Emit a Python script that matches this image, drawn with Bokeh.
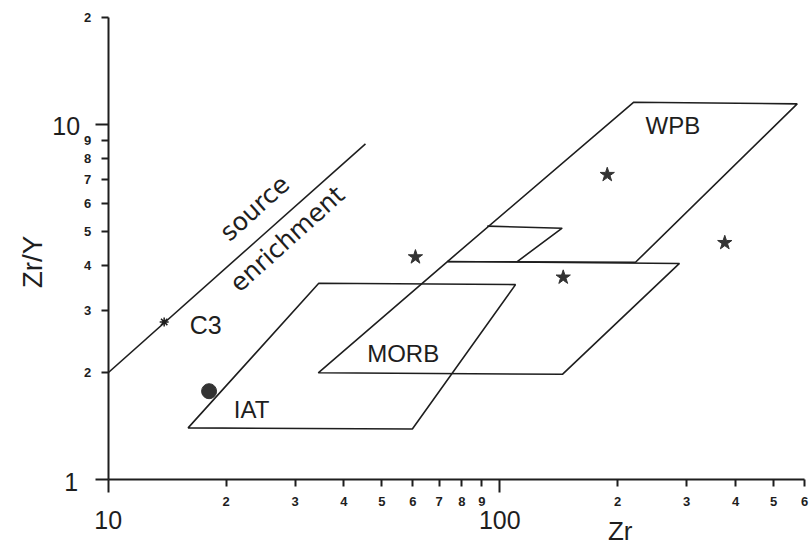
from math import pi
from bokeh.plotting import figure
from bokeh.models import FixedTicker, Label
from bokeh.embed import file_html
from bokeh.resources import INLINE

# ---- axis ticks ----
x_small_ticks = [20, 30, 40, 50, 60, 70, 80, 90, 200, 300, 400, 500, 600]
x_small_labels = ["2", "3", "4", "5", "6", "7", "8", "9", "2", "3", "4", "5", "6"]
x_decades = [10, 100]
x_decade_labels = ["10", "100"]
y_small_ticks = [2, 3, 4, 5, 6, 7, 8, 9, 20]
y_small_labels = ["2", "3", "4", "5", "6", "7", "8", "9", "2"]
y_decades = [1, 10]
y_decade_labels = ["1", "10"]

# ---- discrimination fields (Zr, Zr/Y) ----
iat_zr = [16.0, 59.8, 109.7, 34.5]
iat_zry = [1.40, 1.39, 3.54, 3.57]
morb_zr = [34.4, 144.5, 287.6, 73.5]
morb_zry = [2.00, 1.98, 4.06, 4.11]
wpb_zr = [73.5, 219.9, 574.7, 222.1]
wpb_zry = [4.11, 11.53, 11.41, 4.09]
inner_zr = [92.9, 144.3, 110.8]
inner_zry = [5.17, 5.10, 4.11]

# source enrichment trend
trend_zr = [10.0, 45.4]
trend_zry = [2.0, 8.81]

# samples
star_zr = [60.9, 145.2, 188.1, 375.4]
star_zry = [4.23, 3.71, 7.21, 4.64]
dot_zr = [18.1]
dot_zry = [1.775]
c3_zr = [13.9]
c3_zry = [2.78]

INK = "#1e1e1e"
MARK = "#333333"
FONT = "Liberation Sans"

p = figure(width=810, height=548, x_axis_type="log", y_axis_type="log",
           x_range=(5.31, 621.4), y_range=(0.641, 22.28),
           output_backend="svg", toolbar_location=None, min_border=0)
p.outline_line_color = None
p.grid.visible = False

axes = ((p.xaxis[0], x_small_ticks, x_small_labels, x_decades, 1, (10, 600)),
        (p.yaxis[0], y_small_ticks, y_small_labels, y_decades, 10, (1, 20)))
for ax, ticks, labels, dec, loc, bnds in axes:
    ax.fixed_location = loc
    ax.bounds = bnds
    ax.ticker = FixedTicker(ticks=ticks, minor_ticks=dec)
    ax.major_label_overrides = {t: l for t, l in zip(ticks, labels)}
    ax.axis_line_color = INK
    ax.axis_line_width = 2
    ax.major_tick_line_color = INK
    ax.major_tick_line_width = 2
    ax.minor_tick_line_color = INK
    ax.minor_tick_line_width = 2
    ax.major_tick_in = 0
    ax.major_tick_out = 7
    ax.minor_tick_in = 0
    ax.minor_tick_out = 13
    ax.major_label_standoff = 4
    ax.major_label_text_font = FONT
    ax.major_label_text_font_style = "bold"
    ax.major_label_text_font_size = "13px"
    ax.major_label_text_color = INK

# decade labels (large)
for v, t in zip(x_decades, x_decade_labels):
    p.add_layout(Label(x=v, y=1, y_offset=-40, text=t, text_align="center",
                       text_baseline="middle", text_font=FONT,
                       text_font_size="25px", text_color=INK))
for v, t in zip(y_decades, y_decade_labels):
    p.add_layout(Label(x=10, y=v, x_offset=-28 if v == 10 else -30, y_offset=-2,
                       text=t, text_align="right", text_baseline="middle",
                       text_font=FONT, text_font_size="25px", text_color=INK))

# axis titles
p.add_layout(Label(x=203, y=1, y_offset=-51, text="Zr", text_align="center",
                   text_baseline="middle", text_font=FONT,
                   text_font_size="26px", text_color=INK))
p.add_layout(Label(x=10, y=4.1, x_offset=-76, text="Zr/Y", angle=pi / 2,
                   text_align="center", text_baseline="middle",
                   text_font=FONT, text_font_size="28px", text_color=INK))

# fields
for xs, ys in ((iat_zr, iat_zry), (morb_zr, morb_zry), (wpb_zr, wpb_zry)):
    p.patch(xs, ys, fill_color=None, line_color=INK, line_width=1.6)
p.line(inner_zr, inner_zry, line_color=INK, line_width=1.6)
p.line(trend_zr, trend_zry, line_color=INK, line_width=1.6)

# samples
p.scatter(star_zr, star_zry, marker="star", size=15, fill_color=MARK, line_color=MARK)
p.scatter(dot_zr, dot_zry, marker="circle", size=15, fill_color=MARK, line_color=MARK)
p.scatter(c3_zr, c3_zry, marker="asterisk", size=9, line_color=INK, line_width=1.5)

# field / sample labels
def txt(x, y, t, size="24px", font=FONT, angle=0, align="left"):
    p.add_layout(Label(x=x, y=y, text=t, angle=angle, text_align=align,
                       text_baseline="middle", text_font=font,
                       text_font_size=size, text_color=INK))

txt(16.16, 2.733, "C3", size="25px")
txt(20.93, 1.58, "IAT")
txt(45.85, 2.262, "MORB")
txt(235.6, 9.89, "WPB")
txt(23.67, 5.81, "source", size="25px", font="DejaVu Sans", angle=42 * pi / 180, align="center")
txt(28.65, 4.76, "enrichment", size="25px", font="DejaVu Sans", angle=42 * pi / 180, align="center")

open("out.html", "w").write(file_html(p, INLINE))
